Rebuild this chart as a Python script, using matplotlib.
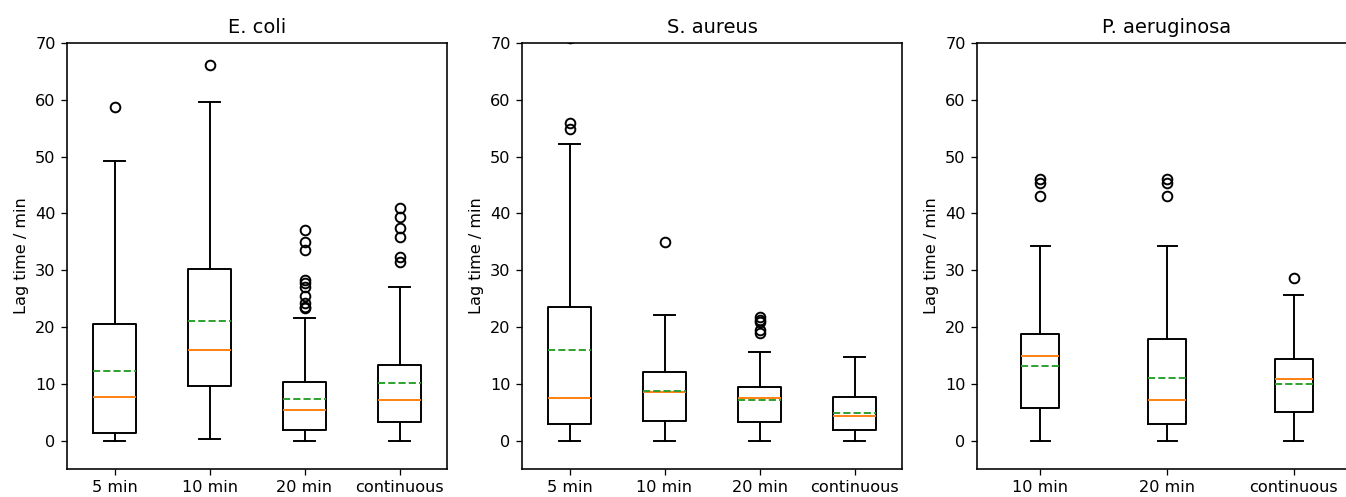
import matplotlib
matplotlib.use("Agg")
import matplotlib.pyplot as plt

# summary statistics (lag time in minutes)
titles = ["E. coli", "S. aureus", "P. aeruginosa"]

ecoli_labels = ["5 min", "10 min", "20 min", "continuous"]
ecoli_whislo = [0.0, 0.2, 0.0, 0.0]
ecoli_q1 = [1.4, 9.6, 1.8, 3.2]
ecoli_med = [7.7, 15.9, 5.4, 7.1]
ecoli_mean = [12.2, 21.1, 7.4, 10.2]
ecoli_q3 = [20.6, 30.2, 10.3, 13.3]
ecoli_whishi = [49.2, 59.7, 21.5, 27.1]
ecoli_fliers = [
    [58.7],
    [66.1],
    [37.0, 35.0, 33.6, 28.3, 27.8, 27.1, 25.4, 24.2, 23.6, 23.3],
    [41.0, 39.3, 37.5, 35.8, 32.3, 31.5],
]

saureus_labels = ["5 min", "10 min", "20 min", "continuous"]
saureus_whislo = [0.0, 0.0, 0.0, 0.0]
saureus_q1 = [3.0, 3.5, 3.2, 1.9]
saureus_med = [7.5, 8.5, 7.5, 4.3]
saureus_mean = [15.9, 8.7, 7.1, 4.9]
saureus_q3 = [23.6, 12.0, 9.4, 7.6]
saureus_whishi = [52.2, 22.1, 15.6, 14.8]
saureus_fliers = [
    [70.8, 56.0, 54.9],
    [34.9],
    [21.7, 21.3, 20.9, 19.5, 19.0],
    [],
]

paer_labels = ["10 min", "20 min", "continuous"]
paer_whislo = [0.0, 0.0, 0.0]
paer_q1 = [5.7, 3.0, 5.0]
paer_med = [14.9, 7.2, 10.9]
paer_mean = [13.1, 11.0, 10.0]
paer_q3 = [18.7, 17.9, 14.3]
paer_whishi = [34.3, 34.3, 25.6]
paer_fliers = [
    [46.1, 45.4, 43.1],
    [46.1, 45.4, 43.1],
    [28.7],
]


def make_stats(labels, whislo, q1, med, mean, q3, whishi, fliers):
    stats = []
    for i in range(len(labels)):
        stats.append({
            "label": labels[i],
            "whislo": whislo[i],
            "q1": q1[i],
            "med": med[i],
            "mean": mean[i],
            "q3": q3[i],
            "whishi": whishi[i],
            "fliers": fliers[i],
        })
    return stats


panels = [
    make_stats(ecoli_labels, ecoli_whislo, ecoli_q1, ecoli_med, ecoli_mean,
               ecoli_q3, ecoli_whishi, ecoli_fliers),
    make_stats(saureus_labels, saureus_whislo, saureus_q1, saureus_med, saureus_mean,
               saureus_q3, saureus_whishi, saureus_fliers),
    make_stats(paer_labels, paer_whislo, paer_q1, paer_med, paer_mean,
               paer_q3, paer_whishi, paer_fliers),
]

W, H = 1346, 497
DPI = 116  # reference looks like default styling rendered slightly larger
fig = plt.figure(figsize=(W / DPI, H / DPI), dpi=DPI)

# axes left edges in pixels; last panel runs past the right edge like the reference
lefts = [67, 522, 977]
ax_w, ax_bottom, ax_top = 380, 469, 43

lw = 1.2
for left, stats, title in zip(lefts, panels, titles):
    ax = fig.add_axes([left / W, (H - ax_bottom) / H, ax_w / W, (ax_bottom - ax_top) / H])
    ax.bxp(stats, showmeans=True, meanline=True,
           boxprops=dict(linewidth=lw),
           whiskerprops=dict(linewidth=lw),
           capprops=dict(linewidth=lw),
           medianprops=dict(linewidth=lw),
           meanprops=dict(linewidth=lw),
           flierprops=dict(markeredgewidth=lw))
    ax.set_ylim(-5, 70)
    ax.set_yticks(range(0, 71, 10))
    ax.set_title(title, fontsize=12)
    ax.set_ylabel("Lag time / min")
    ax.tick_params(labelsize=10)
    for sp in ax.spines.values():
        sp.set_linewidth(1.0)

fig.savefig("out.png", dpi=DPI)
